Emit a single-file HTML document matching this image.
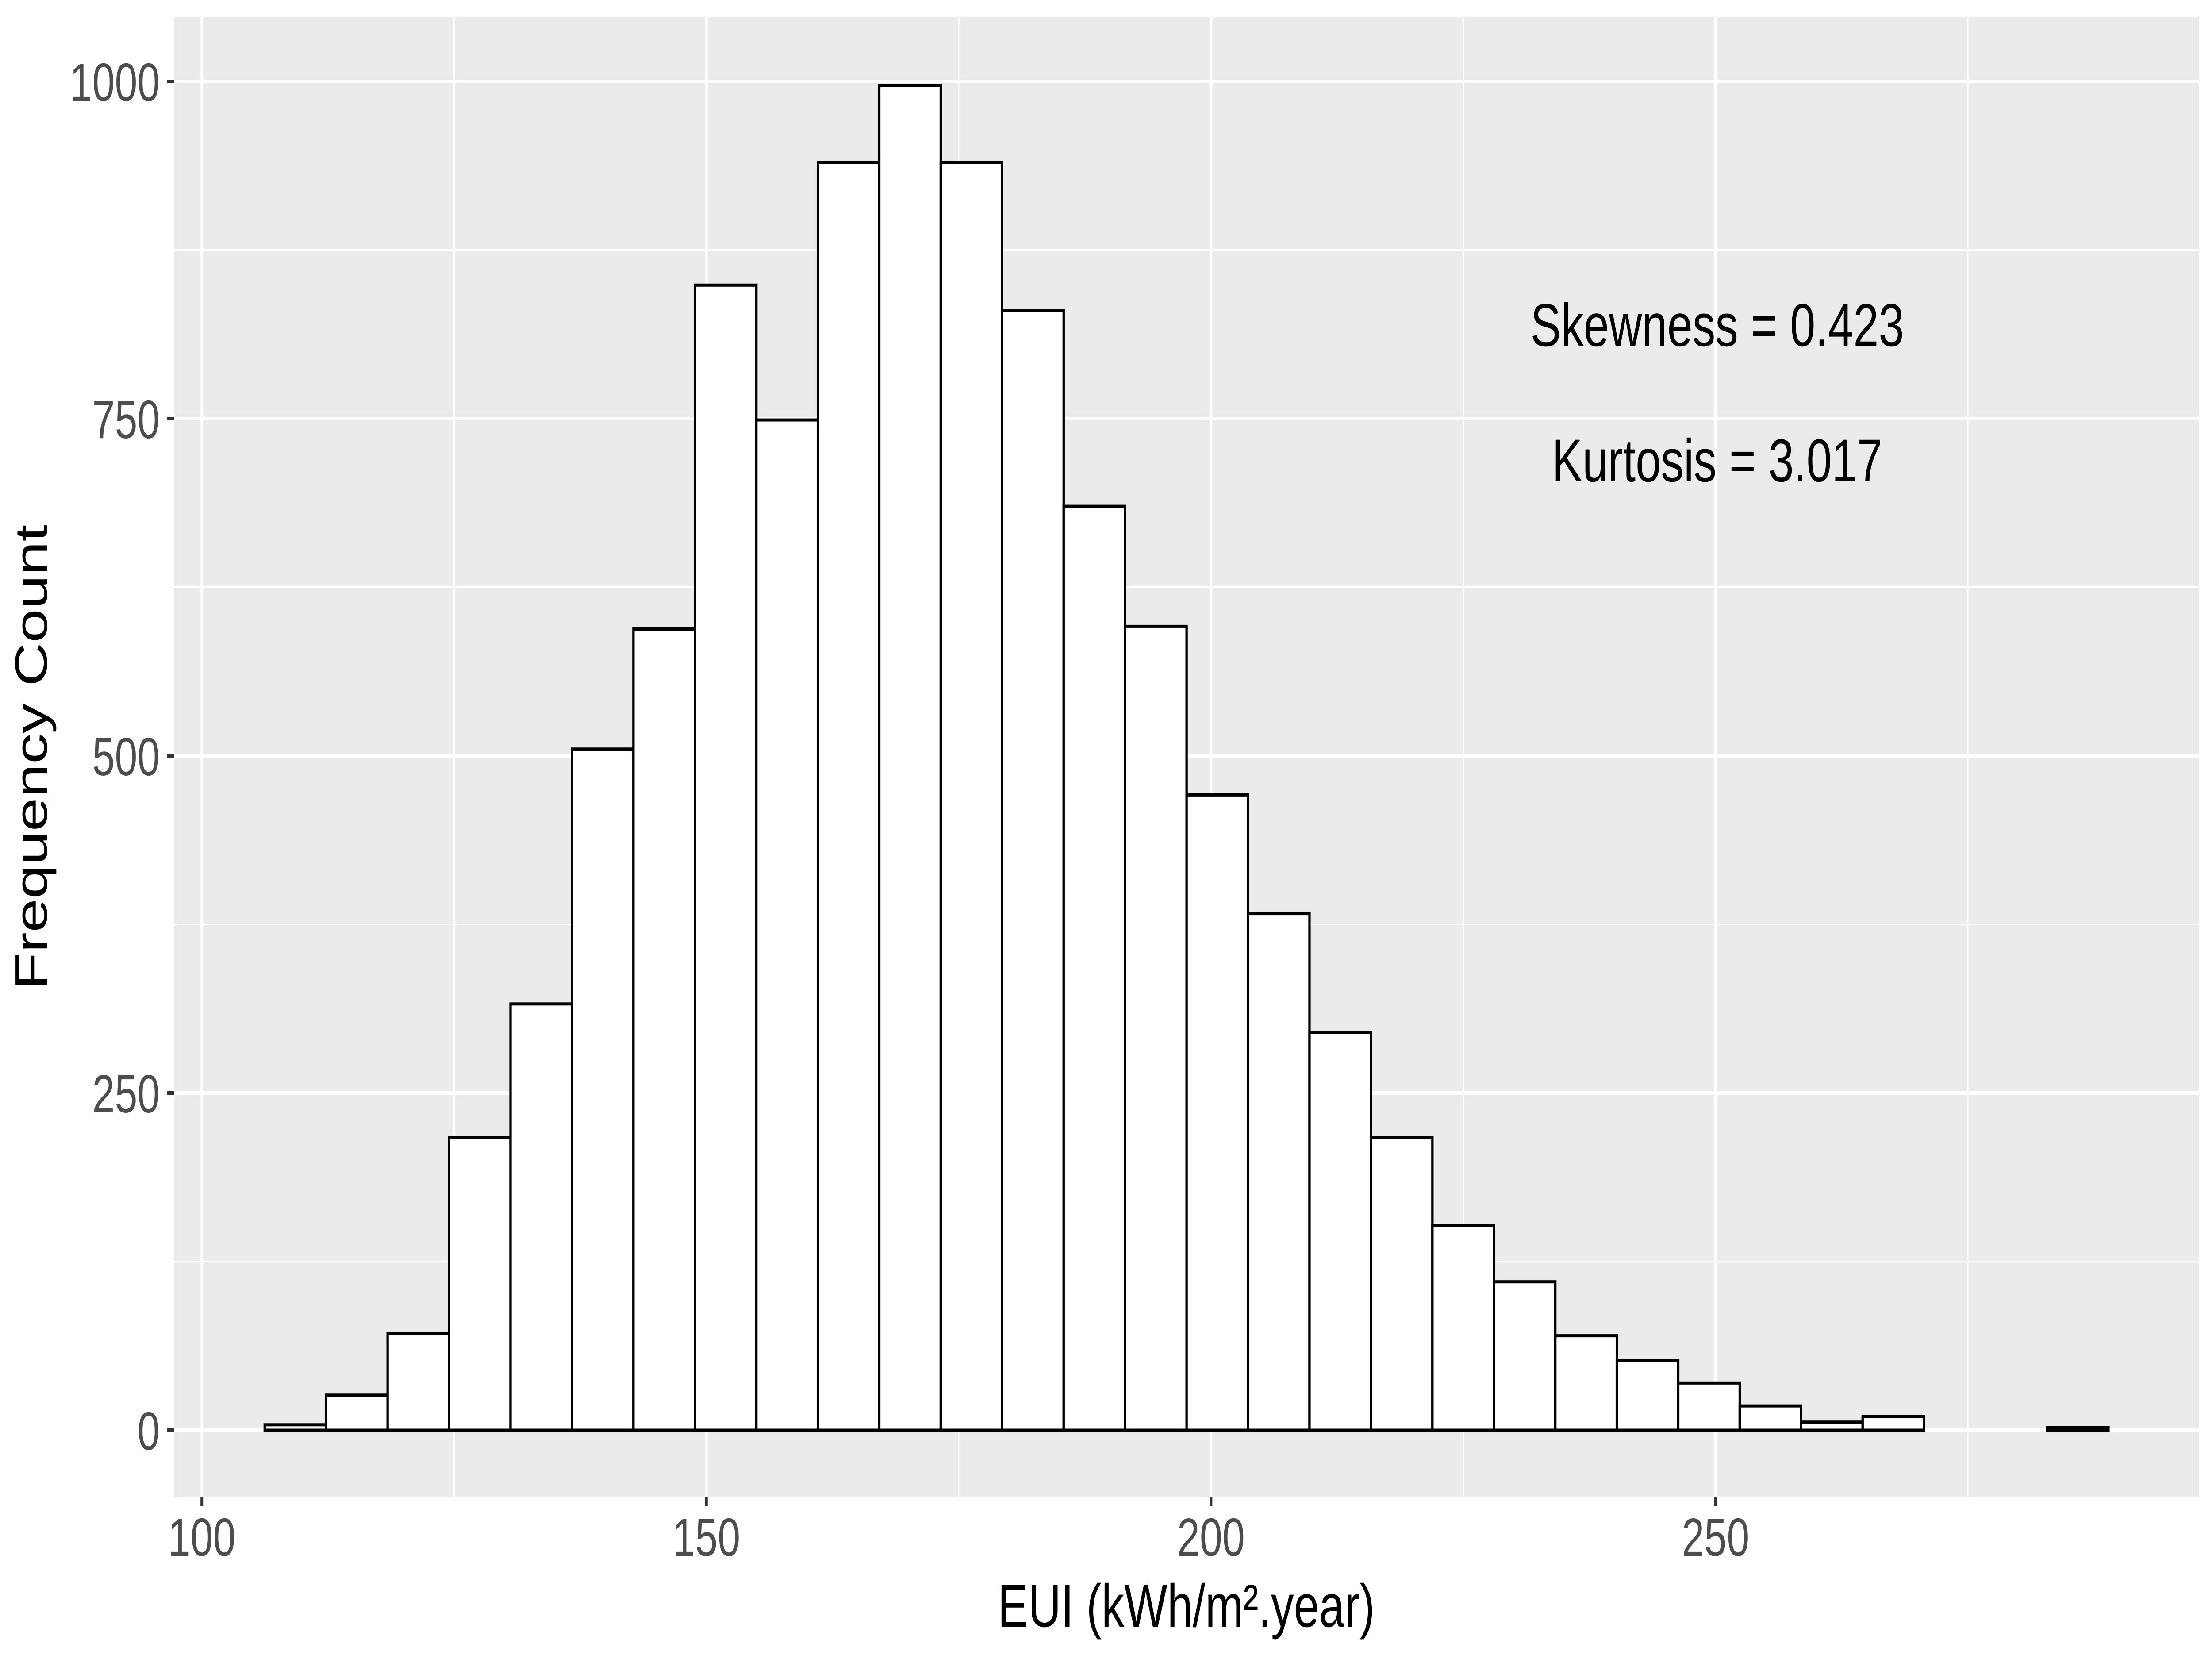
<!DOCTYPE html>
<html><head><meta charset="utf-8"><style>
html,body{margin:0;padding:0;background:#fff;width:100vw;height:100vh;overflow:hidden;}
svg{display:block;font-family:"Liberation Sans",Arial,sans-serif;width:100vw;height:100vh;}
</style></head><body>
<svg id="chart" viewBox="0 0 6653 3740" preserveAspectRatio="none" xmlns="http://www.w3.org/2000/svg">
<rect x="0" y="0" width="6653" height="3740" fill="#ffffff"/>
<rect x="523" y="38" width="6091" height="3346" fill="#ebebeb"/>
<g id="grid"></g>
<g id="bars"></g>
<g id="axes"></g>
<text x="5165" y="782" font-size="137" text-anchor="middle" fill="#000">Skewness = 0.423</text>
<text x="5165" y="1088" font-size="137" text-anchor="middle" fill="#000">Kurtosis = 3.017</text>
<text x="3568" y="3676" font-size="137" text-anchor="middle" fill="#000">EUI (kWh/m².year)</text>
<text x="141" y="1711" font-size="137" text-anchor="middle" fill="#000" transform="rotate(-90 141 1711)">Frequency Count</text>
</svg>
<script>
const binStart = 106.23;
const binWidth = 6.09;
const counts = [4, 26, 72, 217, 316, 505, 594, 849, 749, 940, 997, 940, 830, 685, 596, 471, 383, 295, 217, 152, 110, 70, 52, 35, 18, 6, 10, 0, 0, 2];
const xTicks = [100, 150, 200, 250];
const xMinor = [125, 175, 225, 275];
const yTicks = [0, 250, 500, 750, 1000];
const yMinor = [125, 375, 625, 875];

const NS = "http://www.w3.org/2000/svg";
const P = {l:523, t:38, r:6614, b:3384};
function xs(v){ return 607 + (v - 100) * 30.353; }
function ys(v){ return 3232 - v * 3.048; }
function mk(tag, attrs, parent){
  const e = document.createElementNS(NS, tag);
  for (const k in attrs) e.setAttribute(k, attrs[k]);
  parent.appendChild(e);
  return e;
}
const grid = document.getElementById('grid');
const bars = document.getElementById('bars');
const axes = document.getElementById('axes');

xMinor.forEach(v => {
  const ln = mk('line', {x1:xs(v), x2:xs(v), y1:P.t, y2:P.b, stroke:'#fff', 'stroke-width':4}, grid);
  
  
});
yMinor.forEach(v => {
  const ln = mk('line', {x1:P.l, x2:P.r, y1:ys(v), y2:ys(v), stroke:'#fff', 'stroke-width':4}, grid);
  
  
});
xTicks.forEach(v => {
  const ln = mk('line', {x1:xs(v), x2:xs(v), y1:P.t, y2:P.b, stroke:'#fff', 'stroke-width':8}, grid);
  
  
  const tk = mk('line', {x1:xs(v), x2:xs(v), y1:P.b, y2:P.b+20, stroke:'#333', 'stroke-width':8}, axes);
  
  
  const tx = mk('text', {x:xs(v), y:3516, 'font-size':122, 'text-anchor':'middle', fill:'#4d4d4d'}, axes);
  tx.textContent = String(v);
  
  
});
yTicks.forEach(v => {
  const ln = mk('line', {x1:P.l, x2:P.r, y1:ys(v), y2:ys(v), stroke:'#fff', 'stroke-width':8}, grid);
  
  
  const tk = mk('line', {x1:P.l-20, x2:P.l, y1:ys(v), y2:ys(v), stroke:'#333', 'stroke-width':8}, axes);
  
  
  const tx = mk('text', {x:481, y:ys(v)+44, 'font-size':122, 'text-anchor':'end', fill:'#4d4d4d'}, axes);
  tx.textContent = String(v);
  
  
});
counts.forEach((c, i) => {
  const x0 = xs(binStart + i * binWidth), x1 = xs(binStart + (i + 1) * binWidth);
  const y0 = ys(c), y1 = ys(0);
  const r = mk('rect', {x:x0, y:y0, width:x1-x0, height:Math.max(0, y1-y0), fill:'#fff', stroke:'#000', 'stroke-width':7}, bars);
  
  
});
</script>
</body></html>
